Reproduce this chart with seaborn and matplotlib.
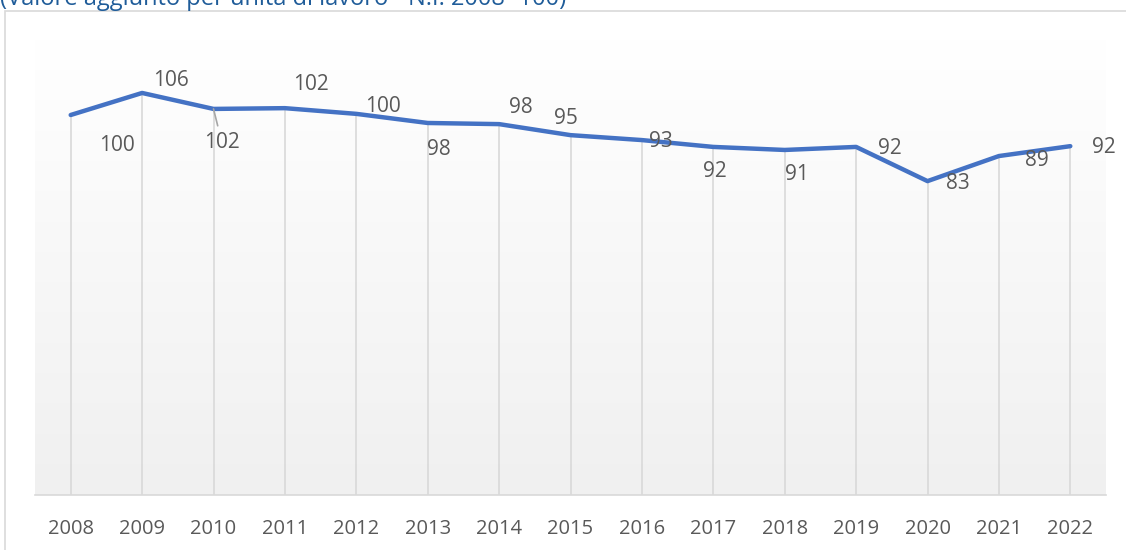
import numpy as np
import pandas as pd
import matplotlib.pyplot as plt
import seaborn as sns
from matplotlib.patches import Rectangle

sns.set_theme(style="white")
plt.rcParams['font.family'] = ['Open Sans', 'DejaVu Sans']

# data
years = ['2008', '2009', '2010', '2011', '2012', '2013', '2014', '2015',
         '2016', '2017', '2018', '2019', '2020', '2021', '2022']
values = [100.0, 105.8, 101.6, 101.8, 100.3, 97.9, 97.6, 94.7,
          93.4, 91.6, 90.8, 91.6, 82.6, 89.2, 91.8]
labels = ['100', '106', '102', '102', '100', '98', '98', '95',
          '93', '92', '91', '92', '83', '89', '92']
title = "(Valore aggiunto per unità di lavoro - N.I. 2008=100)"

# label offsets in points (x right, y up)
lab_dx = [33, 21, 6, 19, 19, 8, 16, -3, 14, 1, 9, 24, 22, 27, 24]
lab_dy = [-22, 9, -24, 17, 5, -19, 12, 12, -1, -18, -18, -1, -2, -3, -1]

df = pd.DataFrame({'year': years, 'value': values})
df['x'] = np.arange(len(years))

fig = plt.figure(figsize=(11.26, 5.5), dpi=100)
ax = fig.add_axes([35 / 1126, 55 / 550, 1071 / 1126, 456 / 550])

# chart border
fig.patches.append(Rectangle((5 / 1126, -0.1), 1.2, 1.1 - 11 / 550,
                             transform=fig.transFigure, fill=False,
                             edgecolor='#D9D9D9', linewidth=1.2, zorder=0))

# gradient plot area (white at top, light grey at bottom)
grad = np.linspace(0.0, 1.0, 256).reshape(-1, 1)
ax.imshow(grad, extent=[-0.5, 14.5, 0, 120], aspect='auto',
          cmap=sns.blend_palette(['#FFFFFF', '#F0F0F0'], as_cmap=True),
          vmin=0, vmax=1, origin='upper', zorder=0)

# drop lines
ax.vlines(df['x'], 0, df['value'], color='#D9D9D9', linewidth=1.2, zorder=1)

sns.lineplot(data=df, x='x', y='value', ax=ax, color='#4472C4',
             linewidth=3.2, zorder=3, solid_capstyle='round')

for i, (xv, yv) in enumerate(zip(df['x'], df['value'])):
    kw = {}
    if i == 2:
        kw['arrowprops'] = dict(arrowstyle='-', color='#A6A6A6', lw=1.2,
                                shrinkA=2, shrinkB=0)
    ax.annotate(labels[i], (xv, yv), xytext=(lab_dx[i], lab_dy[i]),
                textcoords='offset points', ha='center', va='center',
                fontsize=15, color='#595959', zorder=4, **kw)

ax.set_xlim(-0.5, 14.5)
ax.set_ylim(0, 120)
ax.set_xticks(df['x'])
ax.set_xticklabels(years, fontsize=14.5, color='#595959')
ax.set_yticks([])
ax.tick_params(axis='x', length=0, pad=17)
ax.set_xlabel('')
ax.set_ylabel('')
for s in ['top', 'right', 'left']:
    ax.spines[s].set_visible(False)
ax.spines['bottom'].set_color('#D9D9D9')
ax.spines['bottom'].set_linewidth(1.2)
ax.patch.set_alpha(0)

fig.text(0.0, 1 - 5 / 550, title, ha='left', va='baseline',
         fontsize=17, color='#1F5C99')

fig.savefig('out.png', dpi=100)
